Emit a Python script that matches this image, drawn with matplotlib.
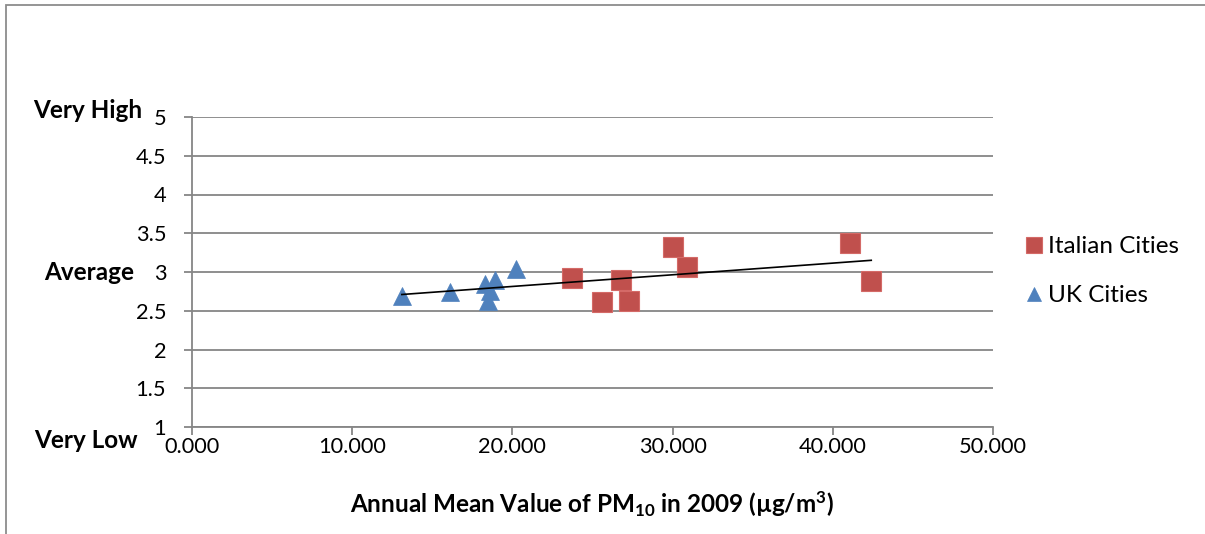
#!/usr/bin/env python3
# -*- coding: utf-8 -*-
"""plot.py - PM10 annual mean vs. perceived air quality, Italian and UK cities"""
import numpy as np
import matplotlib
matplotlib.use("Agg")
import matplotlib.pyplot as plt
from matplotlib.patches import Rectangle

# ---- data ----
italy_pm10 = [23.7, 25.6, 26.8, 27.3, 30.0, 30.9, 41.1, 42.4]
italy_score = [2.92, 2.61, 2.90, 2.62, 3.32, 3.06, 3.37, 2.88]
uk_pm10 = [13.1, 16.1, 18.3, 18.9, 18.6, 18.5, 20.2]
uk_score = [2.69, 2.74, 2.85, 2.90, 2.76, 2.62, 3.04]

x_ticks = [0, 10, 20, 30, 40, 50]
y_ticks = [1, 1.5, 2, 2.5, 3, 3.5, 4, 4.5, 5]
y_words = {5: "Very High", 3: "Average", 1: "Very Low"}

RED = "#C0504D"
BLUE = "#4F81BD"
GRID = "#868686"
FONT = "Lato"

W, H = 1205, 534


def px(x, y):
    """pixel position -> figure fraction"""
    return x / W, 1 - y / H


def render(filename):
    plt.rcParams["font.family"] = [FONT, "DejaVu Sans"]
    fig = plt.figure(figsize=(W / 100, H / 100), dpi=100)
    ax = fig.add_axes([192 / W, 1 - 427 / H, (993 - 192) / W, (427 - 117) / H])

        # outer frame of the embedded chart
    fig.patches.append(Rectangle(px(6, 600), 1.2, 1 - 5.5 / H - (1 - 600 / H),
                                 transform=fig.transFigure, fill=False,
                                 edgecolor="#8c8c8c", linewidth=1.3))

    ax.set_xlim(0, 50)
    ax.set_ylim(1, 5)
    ax.set_xticks(x_ticks)
    ax.set_xticklabels(["%.3f" % v for v in x_ticks])
    ax.set_yticks(y_ticks)
    ax.set_yticklabels(["%g" % v for v in y_ticks])
    ax.yaxis.grid(True, color=GRID, linewidth=1.3)
    ax.set_axisbelow(True)
    for side in ("top", "right"):
        ax.spines[side].set_visible(False)
    for side in ("left", "bottom"):
        ax.spines[side].set_color(GRID)
        ax.spines[side].set_linewidth(1.3)
    ax.tick_params(axis="both", direction="out", length=5.5, width=1.3,
                   color=GRID, labelsize=15.7, labelcolor="black")
    ax.tick_params(axis="y", pad=13)
    ax.tick_params(axis="x", pad=2)

        # scatter series
    ax.plot(italy_pm10, italy_score, "s", ms=14.5, color=RED,
            mec="#d46a67", mew=0.8, label="Italian Cities", zorder=3)
    ax.plot(uk_pm10, uk_score, "^", ms=13, color=BLUE,
            mec=BLUE, mew=0.5, label="UK Cities", zorder=3)

        # linear trendline over all cities
    all_x = np.array(italy_pm10 + uk_pm10)
    all_y = np.array(italy_score + uk_score)
    slope, icpt = np.polyfit(all_x, all_y, 1)
    tx = np.array([all_x.min(), all_x.max()])
    ax.plot(tx, slope * tx + icpt, color="black", linewidth=1.2, zorder=4)

    ax.set_xlabel("Annual Mean Value of PM$_{10}$ in 2009 (\u00b5g/m$^{3}$)",
                  fontsize=17.5, fontweight="bold", labelpad=23)

        # verbal scale to the left of the tick labels
    word_pos = {5: (142, 111), 3: (134, 273), 1: (138, 440)}
    for v, word in y_words.items():
        fx, fy = px(*word_pos[v])
        fig.text(fx, fy, word, ha="right", va="center", fontsize=17.5,
                 fontweight="bold")

    fig.legend(loc="upper left", bbox_to_anchor=px(1024, 236), frameon=False,
               fontsize=17.5, handlelength=0.85, handletextpad=0.15,
               labelspacing=1.17, borderpad=0, borderaxespad=0,
               markerscale=0.75)

    fig.savefig(filename, dpi=100)


if __name__ == "__main__":
    plt.rcParams["mathtext.fontset"] = "custom"
    plt.rcParams["mathtext.rm"] = FONT
    plt.rcParams["mathtext.bf"] = FONT + ":bold"
    plt.rcParams["mathtext.default"] = "bf"
    render("out.png")
